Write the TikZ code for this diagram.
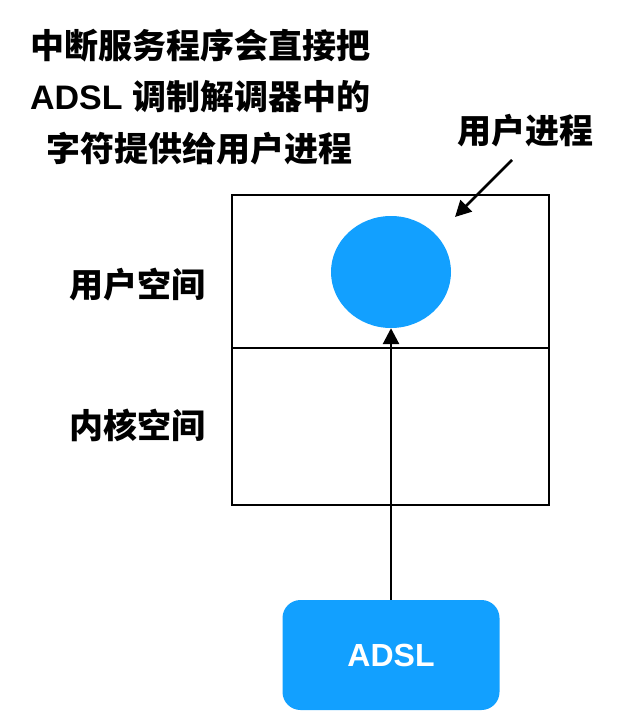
\documentclass[tikz,border=0pt]{standalone}
\usepackage{fontspec}
\setmainfont{Liberation Sans}
\newfontfamily\cjk{Noto Sans CJK SC}
\usepackage{tikz}
\usetikzlibrary{arrows.meta,shapes.geometric}
\definecolor{procblue}{RGB}{18,160,255}
\tikzset{
  notetext/.style ={align=center, font=\fontsize{34}{51.5}\selectfont\bfseries, inner sep=0pt},
  spacelabel/.style={font=\cjk\fontsize{34}{40}\selectfont\bfseries, inner sep=0pt},
  spacebox/.style ={rectangle, draw=black, line width=1.1pt, minimum width=317pt,
                    inner sep=0pt},
  procnode/.style ={ellipse, fill=procblue, minimum width=120pt, minimum height=112pt,
                    inner sep=0pt},
  devnode/.style  ={rectangle, rounded corners=18pt, fill=procblue, text=white,
                    minimum width=217pt, minimum height=110pt, inner sep=0pt,
                    font=\fontsize{32}{38}\selectfont\bfseries},
  flow/.style     ={-{Triangle[length=16pt,width=16pt]}, line width=2.8pt},
}
\begin{document}
\begin{tikzpicture}[x=1pt,y=-1pt]
  \useasboundingbox (0,0) rectangle (626,720);
  % text at the top
  \node[notetext] (note) at (200,97)
    {{\cjk 中断服务程序会直接把}\\ADSL {\cjk 调制解调器中的}\\{\cjk 字符提供给用户进程}};
  \node[spacelabel] (proclabel) at (525,131) {用户进程};
  % user and kernel space
  \node[spacebox, minimum height=153pt] (user)   at (390.5,271.5) {};
  \node[spacebox, minimum height=157pt] (kernel) at (390.5,426.5) {};
  \node[spacelabel] (userlabel)   at (137,285) {用户空间};
  \node[spacelabel] (kernellabel) at (137,425) {内核空间};
  \node[procnode] (proc) at (391,272) {};
  \node[devnode] (adsl) at (391,655) {ADSL};
  % arrows
  \coordinate (proctail) at (512,160);
  \coordinate (proctip)  at (455,217);
  \draw[flow] (proctail) -- (proctip);
  \draw[flow] (adsl.north) -- (proc.south);
\end{tikzpicture}
\end{document}
